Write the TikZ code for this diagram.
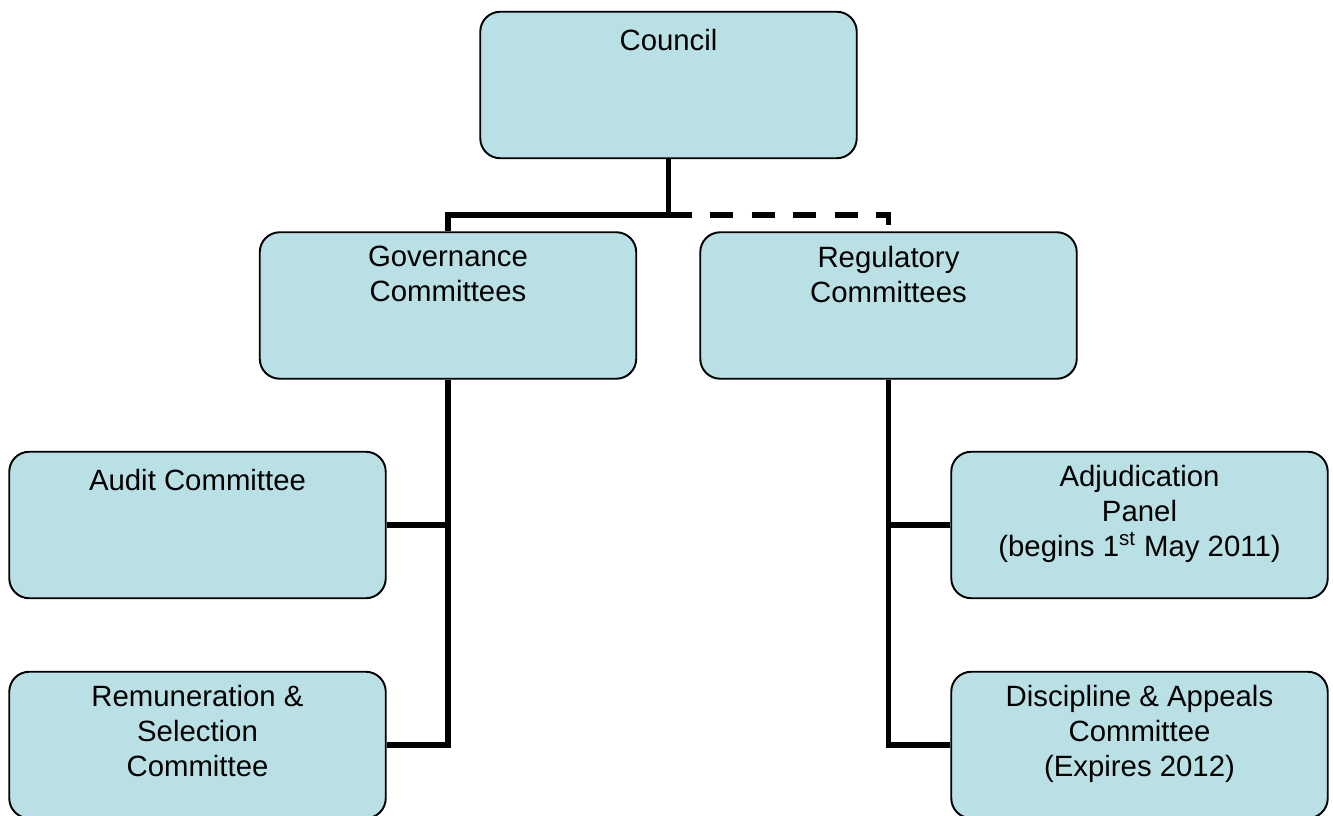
\documentclass[tikz,border=0pt]{standalone}
\usepackage{fontspec}
\setmainfont{Liberation Sans}
\usepackage{tikz}
\usetikzlibrary{calc}
\definecolor{boxfill}{RGB}{185,224,228}

\begin{document}
\begin{tikzpicture}[
  box/.style={rectangle, draw=black, line width=1.1pt, fill=boxfill, rounded corners=0.4cm, minimum width=7.53cm, minimum height=2.93cm, inner sep=0pt},
  lbl/.style={anchor=north, align=center, inner sep=0pt, font=\fontsize{16.7pt}{19.9pt}\selectfont, execute at begin node=\strut},
  link/.style={line width=3.3pt, black},
  dlink/.style={link, dash pattern=on 0.46cm off 0.37cm},
]

% Frame
\clip (0,0) rectangle (26.66,-16.32);

% Top
\node[box] (council) at (13.37,-1.70) {};
\node[lbl] (councilT) at ([yshift=-0.29cm]council.north) {Council};

% Second row
\node[box] (gov) at (8.96,-6.11) {};
\node[lbl] (govT) at ([yshift=-0.29cm]gov.north) {Governance\\Committees};
\node[box] (reg) at (17.77,-6.11) {};
\node[lbl] (regT) at ([yshift=-0.29cm]reg.north) {Regulatory\\Committees};

% Governance side
\node[box] (audit) at (3.95,-10.50) {};
\node[lbl] (auditT) at ([yshift=-0.29cm]audit.north) {Audit Committee};
\node[box] (remun) at (3.95,-14.90) {};
\node[lbl] (remunT) at ([yshift=-0.29cm]remun.north) {Remuneration \&\\Selection\\Committee};

% Regulatory side
\node[box] (adj) at (22.79,-10.50) {};
\node[lbl] (adjT) at ([yshift=-0.29cm]adj.north) {Adjudication\\Panel\\(begins 1\textsuperscript{st} May 2011)};
\node[box] (disc) at (22.79,-14.90) {};
\node[lbl] (discT) at ([yshift=-0.29cm]disc.north) {Discipline \& Appeals\\Committee\\(Expires 2012)};

% Connectors
\coordinate (split) at (13.37,-4.30);
\draw[link] (council.south) -- (split) -| (gov.north);
\draw[dlink] (split) -| (reg.north);
\draw[link] (gov.south) |- (audit.east);
\draw[link] (gov.south) |- (remun.east);
\draw[link] (reg.south) |- (adj.west);
\draw[link] (reg.south) |- (disc.west);

\end{tikzpicture}
\end{document}
